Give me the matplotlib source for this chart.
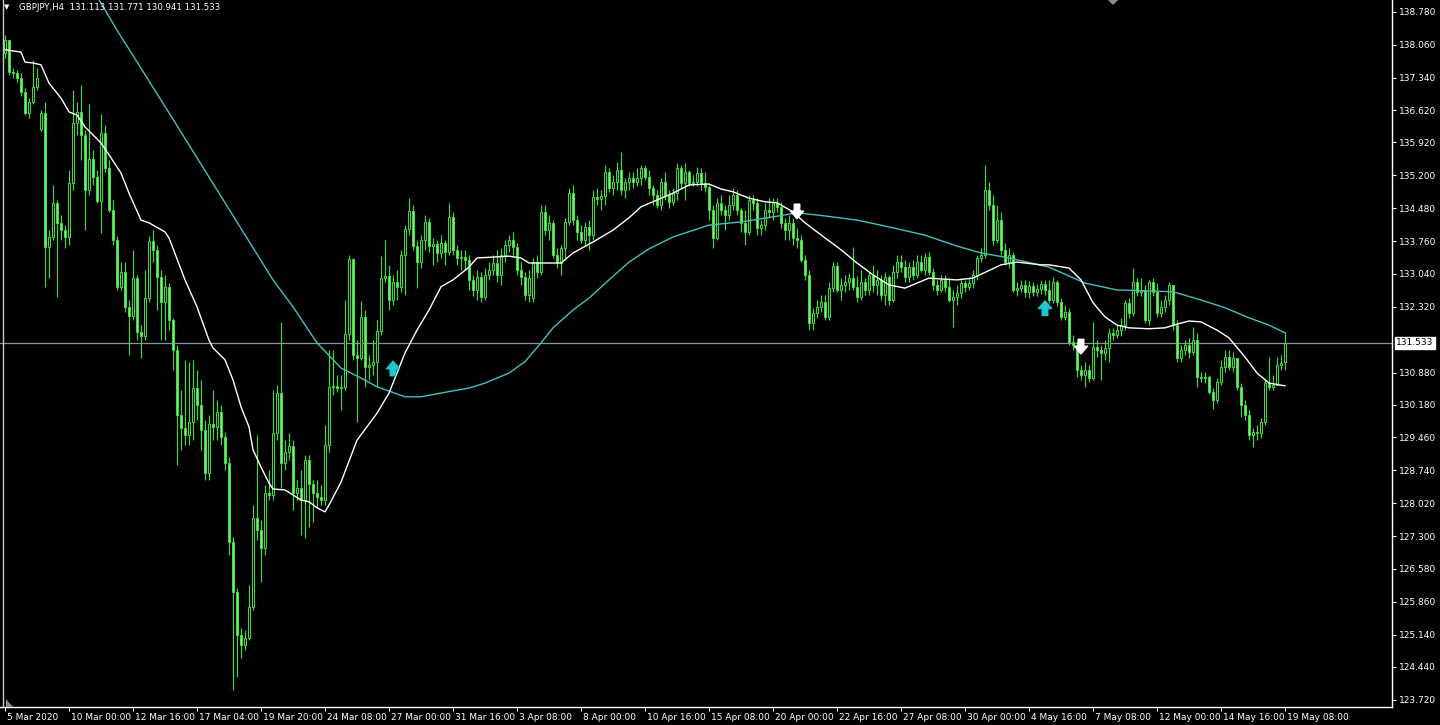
import numpy as np
import matplotlib
matplotlib.use("Agg")
import matplotlib.pyplot as plt
from matplotlib.transforms import ScaledTranslation, blended_transform_factory

# ---------------- data (GBPJPY H4) ----------------
close = [
    138.16, 137.46, 137.44, 137.33, 137.03, 136.57, 136.81, 137.13, 137.33, 136.57,
    133.63, 133.85, 134.60, 134.16, 134.00, 133.85, 135.03, 136.35, 136.59, 136.08,
    134.88, 135.56, 135.16, 134.64, 136.13, 135.36, 134.44, 133.78, 132.75, 133.08,
    132.32, 132.12, 132.95, 131.77, 131.68, 132.51, 133.76, 133.57, 132.97, 132.43,
    132.75, 132.03, 131.38, 129.95, 129.67, 129.51, 129.80, 130.54, 130.17, 129.62,
    128.68, 129.75, 129.69, 130.02, 129.47, 128.90, 127.17, 126.08, 125.13, 124.92,
    125.07, 125.75, 127.70, 127.43, 127.04, 128.24, 128.20, 129.56, 130.43, 128.90,
    129.14, 129.27, 128.24, 128.35, 128.09, 128.97, 128.44, 128.24, 128.16, 128.09,
    129.29, 130.56, 130.59, 130.54, 130.56, 131.73, 133.37, 131.27, 131.20, 132.10,
    131.00, 131.05, 131.11, 131.79, 132.95, 133.00, 132.47, 132.86, 132.75, 133.46,
    134.03, 134.42, 133.65, 133.30, 133.78, 134.18, 133.65, 133.70, 133.50, 133.72,
    133.52, 134.29, 133.57, 133.39, 133.41, 133.35, 132.91, 132.69, 132.97, 132.54,
    133.02, 133.13, 133.28, 133.02, 133.46, 133.67, 133.78, 133.63, 133.13, 132.97,
    132.58, 132.95, 133.30, 133.08, 134.40, 134.00, 134.16, 133.46, 133.28, 133.61,
    134.18, 134.81, 134.22, 133.96, 133.78, 134.07, 133.89, 134.73, 134.68, 134.75,
    135.27, 134.92, 135.05, 135.32, 134.88, 135.05, 135.14, 135.05, 135.14, 135.36,
    135.16, 134.92, 134.77, 134.55, 135.05, 134.77, 134.62, 134.81, 135.36, 135.03,
    135.27, 135.03, 135.05, 135.25, 135.03, 134.95, 134.44, 133.83, 134.60, 134.44,
    134.33, 134.55, 134.77, 134.44, 134.16, 133.96, 134.66, 134.60, 134.05, 134.11,
    134.44, 134.40, 134.60, 134.51, 134.16, 134.00, 134.16, 133.83, 133.78, 133.35,
    133.02, 131.97, 132.19, 132.32, 132.43, 132.10, 132.73, 133.21, 132.69, 132.80,
    132.86, 132.95, 132.75, 132.54, 132.86, 132.69, 133.02, 132.80, 132.91, 132.58,
    132.97, 132.47, 133.08, 133.30, 133.19, 132.97, 133.19, 133.02, 133.30, 133.13,
    133.41, 133.08, 132.80, 132.69, 132.91, 132.75, 132.47, 132.54, 132.62, 132.84,
    132.75, 132.84, 133.02, 133.39, 133.46, 134.88, 134.55, 133.78, 134.22, 133.57,
    133.30, 133.46, 132.69, 132.73, 132.80, 132.65, 132.78, 132.65, 132.71, 132.82,
    132.69, 132.47, 132.86, 132.43, 132.10, 132.21, 131.55, 131.48, 130.94, 130.83,
    130.94, 130.76, 131.44, 131.38, 131.31, 131.42, 131.75, 131.70, 131.81, 131.92,
    132.40, 132.19, 132.86, 132.65, 132.69, 132.03, 132.86, 132.65, 132.19, 132.32,
    132.47, 132.80, 131.92, 131.20, 131.38, 131.48, 131.33, 131.59, 130.78, 130.76,
    130.78, 130.46, 130.28, 130.67, 131.00, 131.22, 131.00, 131.20, 130.56, 130.17,
    129.95, 129.51, 129.58, 129.56, 129.80, 130.65, 130.56, 130.61, 131.05, 131.09,
    131.533,
]
high = [
    138.27, 138.12, 137.55, 137.51, 137.44, 137.11, 136.89, 137.73, 137.55, 136.63,
    136.81, 134.00, 134.99, 134.66, 134.33, 134.11, 135.32, 137.07, 136.81, 137.18,
    136.19, 136.76, 135.76, 135.32, 136.54, 136.30, 135.54, 134.66, 133.87, 133.30,
    133.30, 132.47, 133.57, 133.02, 131.92, 133.13, 133.87, 134.00, 133.67, 133.13,
    133.02, 132.84, 132.08, 131.48, 130.50, 131.16, 131.11, 131.16, 130.94, 130.72,
    129.84, 129.95, 130.50, 130.28, 130.17, 129.58, 129.03, 127.28, 126.16, 125.29,
    125.24, 126.23, 127.98, 129.51, 127.65, 128.42, 128.75, 130.50, 130.61, 131.99,
    129.40, 129.56, 129.40, 128.53, 128.75, 129.08, 129.08, 128.53, 128.53, 128.42,
    129.73, 131.38, 131.38, 130.83, 130.83, 132.47, 133.46, 133.39, 131.59, 132.45,
    132.25, 131.27, 131.59, 132.03, 133.43, 133.78, 133.24, 133.02, 133.13, 133.57,
    134.11, 134.70, 134.55, 133.78, 133.89, 134.33, 134.27, 133.83, 133.78, 133.89,
    133.78, 134.60, 134.40, 133.67, 133.57, 133.57, 133.46, 133.02, 133.13, 133.08,
    133.17, 133.30, 133.46, 133.57, 133.61, 133.78, 133.89, 133.96, 133.72, 133.30,
    133.08, 133.13, 133.39, 133.46, 134.55, 134.55, 134.33, 134.22, 133.61, 133.67,
    134.27, 134.92, 134.99, 134.33, 134.11, 134.18, 134.22, 134.88, 134.92, 134.88,
    135.43, 135.36, 135.21, 135.49, 135.71, 135.14, 135.27, 135.27, 135.36, 135.43,
    135.43, 135.32, 134.99, 134.88, 135.14, 135.27, 134.88, 134.92, 135.47, 135.43,
    135.47, 135.32, 135.21, 135.38, 135.36, 135.27, 134.99, 134.55, 134.70, 134.77,
    134.55, 134.77, 134.92, 134.88, 134.49, 134.44, 134.77, 134.77, 134.70, 134.22,
    134.60, 134.70, 134.70, 134.70, 134.62, 134.27, 134.33, 134.27, 134.05, 133.89,
    133.46, 133.13, 132.29, 132.47, 132.58, 132.58, 132.86, 133.30, 133.30, 132.95,
    133.02, 133.06, 133.63, 133.00, 133.13, 132.95, 133.08, 133.24, 133.13, 133.02,
    133.08, 133.02, 133.24, 133.46, 133.46, 133.35, 133.30, 133.35, 133.46, 133.46,
    133.50, 133.52, 133.17, 132.91, 133.02, 133.02, 132.95, 132.69, 132.80, 132.95,
    132.91, 132.97, 133.13, 133.46, 133.61, 135.43, 135.05, 134.77, 134.55, 134.40,
    133.72, 133.61, 133.52, 132.86, 132.91, 132.91, 132.89, 132.86, 132.82, 132.91,
    132.91, 132.91, 132.97, 132.91, 132.51, 132.36, 132.29, 131.70, 131.59, 131.05,
    131.11, 131.05, 131.99, 131.59, 131.48, 131.59, 131.86, 131.86, 131.92, 132.08,
    132.47, 132.51, 133.17, 132.95, 132.95, 132.80, 132.91, 132.95, 132.84, 132.47,
    132.58, 132.86, 132.78, 132.03, 131.48, 131.59, 131.64, 131.88, 131.75, 130.89,
    130.89, 130.83, 130.54, 130.76, 131.16, 131.38, 131.38, 131.33, 131.05, 130.65,
    130.28, 130.06, 129.67, 129.73, 129.89, 130.72, 131.22, 130.83, 131.22, 131.27,
    131.771,
]
low = [
    137.77, 137.40, 137.33, 137.24, 136.94, 136.52, 136.46, 136.76, 137.07, 136.17,
    132.75, 132.95, 133.78, 132.54, 133.78, 133.61, 133.67, 134.88, 136.08, 135.54,
    134.00, 134.77, 134.99, 134.60, 133.94, 135.27, 134.40, 133.67, 132.69, 132.69,
    132.21, 131.27, 132.03, 131.59, 131.20, 131.59, 132.43, 133.30, 132.25, 131.59,
    131.59, 131.81, 130.94, 128.86, 129.19, 129.29, 129.29, 129.40, 129.84, 129.19,
    128.53, 128.53, 129.40, 129.40, 129.29, 128.75, 126.89, 123.93, 124.21, 124.63,
    124.81, 125.02, 125.68, 127.21, 126.29, 126.89, 128.09, 128.09, 129.40, 128.35,
    128.75, 128.97, 127.87, 128.09, 127.32, 127.26, 127.50, 127.61, 127.92, 127.98,
    127.98, 129.14, 130.39, 130.46, 130.06, 130.50, 131.59, 131.16, 129.80, 131.16,
    130.56, 130.72, 130.83, 130.56, 131.70, 132.86, 132.25, 132.36, 132.47, 132.65,
    132.58, 133.89, 133.57, 132.73, 133.17, 133.57, 133.52, 133.24, 133.30, 133.39,
    133.24, 133.46, 133.46, 133.24, 133.13, 133.13, 132.69, 132.56, 132.47, 132.43,
    132.47, 132.91, 133.02, 132.86, 132.80, 133.30, 133.52, 133.46, 133.02, 132.80,
    132.47, 132.43, 132.43, 132.95, 133.02, 133.89, 133.78, 133.39, 133.17, 133.02,
    133.39, 134.11, 134.11, 133.78, 133.72, 133.67, 133.57, 133.78, 134.55, 134.44,
    134.55, 134.84, 134.77, 134.88, 134.77, 134.70, 134.88, 134.92, 134.97, 134.99,
    135.10, 134.77, 134.55, 134.49, 134.44, 134.66, 134.49, 134.55, 134.66, 134.92,
    134.66, 134.97, 134.97, 134.97, 134.88, 134.84, 134.22, 133.61, 133.78, 134.33,
    134.00, 134.22, 134.44, 134.33, 133.96, 133.67, 133.89, 134.44, 133.89, 133.89,
    134.00, 134.27, 134.22, 134.40, 134.05, 133.78, 133.78, 133.67, 133.61, 133.30,
    132.91, 131.81, 131.81, 132.08, 132.21, 132.03, 132.03, 132.65, 132.65, 132.47,
    132.65, 132.69, 132.69, 132.43, 132.47, 132.58, 132.58, 132.65, 132.58, 132.47,
    132.36, 132.36, 132.43, 132.95, 133.08, 132.86, 132.86, 132.91, 132.95, 133.08,
    133.02, 133.02, 132.69, 132.58, 132.65, 132.65, 132.43, 131.88, 132.36, 132.51,
    132.65, 132.69, 132.73, 132.91, 133.30, 133.39, 134.44, 133.67, 133.72, 133.46,
    133.24, 133.17, 132.65, 132.56, 132.65, 132.54, 132.51, 132.56, 132.56, 132.60,
    132.58, 132.40, 132.40, 132.34, 132.03, 132.03, 131.48, 131.38, 130.78, 130.72,
    130.56, 130.67, 130.72, 131.22, 130.72, 131.16, 131.11, 131.59, 131.64, 131.68,
    131.81, 132.08, 132.12, 132.56, 132.56, 131.97, 131.92, 132.56, 132.10, 132.10,
    132.21, 132.36, 131.81, 131.11, 131.11, 131.27, 131.20, 131.27, 130.56, 130.67,
    130.65, 130.41, 130.08, 130.21, 130.61, 130.89, 130.94, 130.89, 130.50, 129.91,
    129.84, 129.40, 129.25, 129.40, 129.45, 129.73, 130.50, 130.50, 130.67, 130.94,
    130.941,
]
# opens equal the previous close except at these gaps
gap_open = {0: 137.88, 9: 136.22, 132: 132.51, 320: 131.113}

# white moving average (read at sample bars)
white_idx = [0, 4, 5, 7, 9, 11, 14, 16, 18, 20, 24, 26, 29, 31, 34, 36, 37, 40, 41, 45,
             48, 51, 52, 55, 57, 59, 61, 62, 64, 66, 67, 70, 72, 74, 76, 78, 80, 81, 84, 88,
             93, 96, 100, 103, 106, 109, 112, 116, 118, 122, 126, 129, 131, 139, 142, 147,
             152, 156, 159, 163, 167, 171, 176, 179, 182, 186, 190, 193, 197, 200, 205, 209,
             213, 217, 221, 225, 228, 231, 234, 238, 242, 249, 253, 259, 261, 266, 269, 272,
             275, 278, 281, 286, 290, 293, 296, 299, 303, 306, 310, 313, 316, 320]
white_val = [137.95, 137.90, 137.68, 137.66, 137.62, 137.22, 136.89, 136.59, 136.52, 136.26,
             135.91, 135.65, 135.25, 134.81, 134.22, 134.16, 134.11, 133.96, 133.83, 132.91,
             132.32, 131.59, 131.42, 131.16, 130.72, 130.13, 129.69, 129.19, 128.81, 128.46,
             128.33, 128.31, 128.20, 128.09, 128.05, 127.92, 127.83, 127.98, 128.48, 129.40,
             129.99, 130.43, 131.31, 131.81, 132.25, 132.76, 132.91, 133.19, 133.39, 133.41,
             133.43, 133.39, 133.28, 133.28, 133.50, 133.74, 134.00, 134.27, 134.51, 134.66,
             134.81, 134.99, 135.01, 134.90, 134.84, 134.70, 134.62, 134.60, 134.40, 134.16,
             133.83, 133.57, 133.28, 133.02, 132.80, 132.73, 132.84, 132.95, 132.93, 132.91,
             132.95, 133.24, 133.30, 133.24, 133.24, 133.17, 132.91, 132.41, 132.10, 131.92,
             131.86, 131.84, 131.86, 131.94, 132.01, 131.99, 131.81, 131.64, 131.22, 130.87,
             130.65, 130.59]

# teal (slow) moving average
teal_idx = [23, 28, 41, 67, 72, 78, 79, 84, 89, 93, 100, 104, 112, 116, 120, 126, 130, 134,
            137, 142, 146, 151, 156, 161, 167, 176, 184, 192, 198, 205, 213, 221, 230, 238,
            244, 251, 261, 270, 278, 292, 299, 305, 311, 316, 320]
teal_val = [139.12, 138.38, 136.57, 132.91, 132.32, 131.53, 131.44, 130.98, 130.76, 130.57,
            130.35, 130.35, 130.48, 130.54, 130.65, 130.87, 131.12, 131.53, 131.86, 132.25,
            132.51, 132.91, 133.30, 133.59, 133.85, 134.11, 134.18, 134.29, 134.38, 134.31,
            134.22, 134.07, 133.89, 133.65, 133.50, 133.39, 133.19, 132.84, 132.69, 132.65,
            132.47, 132.30, 132.08, 131.92, 131.75]

# signal arrows (bar index, price of the arrow tip)
up_idx = [97, 260]
up_price = [131.13, 132.45]
down_idx = [198, 269]
down_price = [134.25, 131.29]

x_labels = ["5 Mar 2020", "10 Mar 00:00", "12 Mar 16:00", "17 Mar 04:00", "19 Mar 20:00",
            "24 Mar 08:00", "27 Mar 00:00", "31 Mar 16:00", "3 Apr 08:00", "8 Apr 00:00",
            "10 Apr 16:00", "15 Apr 08:00", "20 Apr 00:00", "22 Apr 16:00", "27 Apr 08:00",
            "30 Apr 00:00", "4 May 16:00", "7 May 08:00", "12 May 00:00", "14 May 16:00",
            "19 May 08:00"]
y_ticks = [138.780, 138.060, 137.340, 136.620, 135.920, 135.200, 134.480, 133.760, 133.040,
           132.320, 130.880, 130.180, 129.460, 128.740, 128.020, 127.300, 126.580, 125.860,
           125.140, 124.440, 123.720]
last_price = 131.533
title = "GBPJPY,H4  131.113 131.771 130.941 131.533"

# ---------------- figure ----------------
W, H = 1440, 725
fig = plt.figure(figsize=(W / 100, H / 100), dpi=100, facecolor="black")
plot_w, plot_h = 1392, 707
ax = fig.add_axes([0, (H - plot_h) / H, plot_w / W, plot_h / H], facecolor="black")

n = len(close)
xs = np.arange(n)
opens = np.array([gap_open.get(i, close[i - 1] if i > 0 else close[0]) for i in range(n)])
closes = np.array(close)
highs = np.maximum(np.array(high), np.maximum(opens, closes))
lows = np.minimum(np.array(low), np.minimum(opens, closes))

green = "#3fd83f"
fillg = "#7af57a"

ax.vlines(xs, lows, highs, color=green, lw=0.85, zorder=2)
up = closes >= opens
body_bot = np.minimum(opens, closes)
body_h = np.maximum(np.abs(closes - opens), 0.015)
ax.bar(xs[up], body_h[up], bottom=body_bot[up], width=0.58, facecolor="black",
       edgecolor=green, linewidth=0.75, zorder=3)
ax.bar(xs[~up], body_h[~up], bottom=body_bot[~up], width=0.58, facecolor=fillg,
       edgecolor=green, linewidth=0.75, zorder=3)

# current price line
ax.axhline(last_price, color="#8a96a3", lw=0.9, zorder=1)

# moving averages
ax.plot(teal_idx, teal_val, color="#45bfbf", lw=1.0, zorder=4)
ax.plot(white_idx, white_val, color="white", lw=1.0, zorder=5)

# arrows
astyle = "simple,head_length=0.55,head_width=0.95,tail_width=0.4"
for i, p in zip(up_idx, up_price):
    ax.annotate("", xy=(i, p), xytext=(0, -10.5), textcoords="offset points",
                arrowprops=dict(arrowstyle=astyle, color="#1ec8d2", shrinkA=0, shrinkB=0,
                                mutation_scale=10), zorder=6)
for i, p in zip(down_idx, down_price):
    ax.annotate("", xy=(i, p), xytext=(0, 10.5), textcoords="offset points",
                arrowprops=dict(arrowstyle=astyle, color="white", shrinkA=0, shrinkB=0,
                                mutation_scale=10), zorder=6)

# axes limits: 4 px per bar, bar 0 at x=5 px
px_per_bar = 4.0
x0 = -5 / px_per_bar
ax.set_xlim(x0, x0 + plot_w / px_per_bar)
ax.set_ylim(123.556, 139.04)

# spines
for s in ["top", "left"]:
    ax.spines[s].set_visible(False)
ax.spines["right"].set_color("white")
ax.spines["bottom"].set_color("white")
ax.spines["right"].set_linewidth(1.0)
ax.spines["bottom"].set_linewidth(1.0)
ax.plot([2.5 / plot_w] * 2, [0, 1], transform=ax.transAxes, color="#c8c8c8", lw=1.0,
        clip_on=False, zorder=7)

# y axis on right
ax.yaxis.tick_right()
ax.set_yticks(y_ticks)
ax.set_yticklabels([f"{v:.3f}" for v in y_ticks])
ax.tick_params(axis="y", colors="white", length=3, width=0.8, pad=2, labelsize=6.5)

# x axis
ax.set_xticks(np.arange(0, n, 16))
ax.set_xticklabels(x_labels)
ax.tick_params(axis="x", colors="white", length=3, width=0.8, pad=1.5, labelsize=6.5)
off = ScaledTranslation(2 / 100, 0, fig.dpi_scale_trans)
for lab in ax.get_xticklabels():
    lab.set_horizontalalignment("left")
    lab.set_transform(lab.get_transform() + off)
for lab in ax.get_xticklabels() + ax.get_yticklabels():
    lab.set_fontfamily("DejaVu Sans")

# price box
tr = blended_transform_factory(ax.transAxes, ax.transData)
ax.text(1.0 + 4 / plot_w, last_price, f"{last_price:.3f}", transform=tr, ha="left",
        va="center", fontsize=6.5, color="black", family="DejaVu Sans",
        bbox=dict(boxstyle="square,pad=0.15", facecolor="white", edgecolor="white"),
        clip_on=False, zorder=10)

# title
fig.text(4 / W, 1 - 7 / H, "▼", color="white", fontsize=5, va="center", ha="left",
         family="DejaVu Sans")
fig.text(19 / W, 1 - 7 / H, title, color="white", fontsize=6.2, va="center", ha="left",
         family="DejaVu Sans")

# chart-shift markers
fig.patches.append(plt.Polygon([[1108 / W, 1.0], [1118 / W, 1.0], [1113 / W, 1 - 5 / H]],
                               closed=True, transform=fig.transFigure, facecolor="#8c8c8c",
                               edgecolor="none"))
fig.patches.append(plt.Polygon([[6 / W, 1 - 699 / H], [6 / W, 1 - 707 / H], [13 / W, 1 - 707 / H]],
                               closed=True, transform=fig.transFigure, facecolor="#8c8c8c",
                               edgecolor="none"))

fig.savefig("out.png", dpi=100, facecolor="black")
